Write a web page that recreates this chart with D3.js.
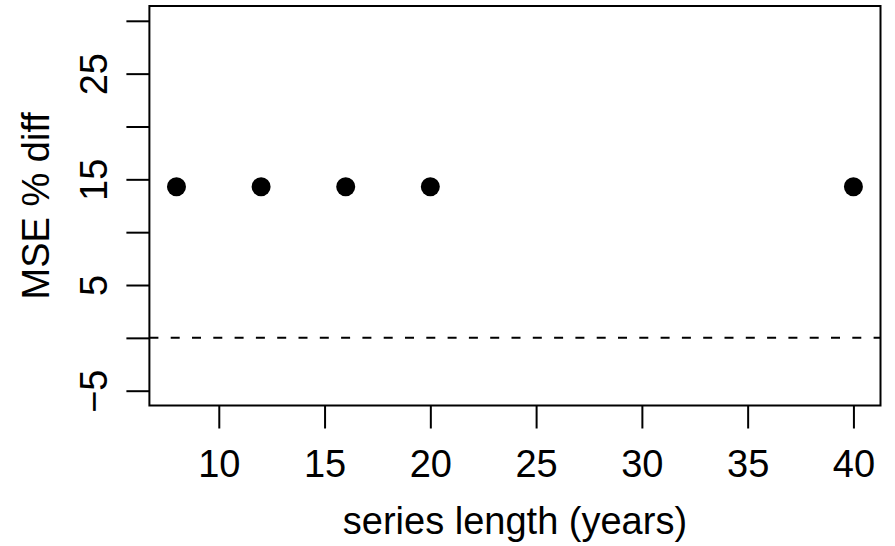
<!DOCTYPE html>
<html>
<head>
<meta charset="utf-8">
<script src="https://cdn.jsdelivr.net/npm/d3@7"></script>
<style>
  html, body { margin: 0; padding: 0; background: #fff; }
  svg { display: block; }
  text { font-family: 'Liberation Sans', Arial, sans-serif; fill: #000; }
</style>
</head>
<body>
<svg id="chart" width="895" height="546"></svg>
<script>
// series lengths (years) and MSE % difference
var lengths = [8, 12, 16, 20, 40];
var mseDiff = [14.3, 14.3, 14.3, 14.3, 14.3];

var xTicks = [10, 15, 20, 25, 30, 35, 40];
var yTicks = [-5, 0, 5, 10, 15, 20, 25, 30];
var yLabelled = [-5, 5, 15, 25];
var refLine = 0;

var xLabel = 'series length (years)',
    yLabel = 'MSE % diff';

var svg = d3.select('#chart'),
    box = {left: 149.4, right: 880.5, top: 6, bottom: 405.5},
    fontSize = 38,
    tickLen = 23;

// R style 4% extension of the ranges
var xr = [d3.min(lengths), d3.max(lengths)], xpad = (xr[1] - xr[0]) * 0.04;
var yr = [-5, 30], ypad = (yr[1] - yr[0]) * 0.04;

var x = d3.scaleLinear()
    .domain([xr[0] - xpad, xr[1] + xpad])
    .range([box.left, box.right]);

var y = d3.scaleLinear()
    .domain([yr[0] - ypad, yr[1] + ypad])
    .range([box.bottom, box.top]);

var fmt = function(d) { return d < 0 ? '\u2212' + Math.abs(d) : '' + d; };

// x axis
var xAxis = svg.append('g')
    .attr('transform', 'translate(0,' + box.bottom + ')')
    .call(d3.axisBottom(x).tickValues(xTicks).tickSize(tickLen).tickPadding(0).tickFormat(fmt));
xAxis.select('.domain').remove();
xAxis.selectAll('.tick line').attr('stroke', '#000').attr('stroke-width', 2);
xAxis.selectAll('.tick text')
    .attr('y', 71.5).attr('dy', null)
    .attr('font-size', fontSize)
    .attr('font-family', "'Liberation Sans', Arial, sans-serif");

// y axis
var yAxis = svg.append('g')
    .attr('transform', 'translate(' + box.left + ',0)')
    .call(d3.axisLeft(y).tickValues(yTicks).tickSize(tickLen).tickFormat(function(d) {
        return yLabelled.indexOf(d) >= 0 ? fmt(d) : '';
    }));
yAxis.select('.domain').remove();
yAxis.selectAll('.tick line').attr('stroke', '#000').attr('stroke-width', 2);
yAxis.selectAll('.tick text')
    .attr('x', null).attr('dy', null)
    .attr('transform', 'translate(-42,0) rotate(-90)')
    .attr('text-anchor', 'middle')
    .attr('font-size', fontSize)
    .attr('font-family', "'Liberation Sans', Arial, sans-serif");

// reference line
svg.append('line')
    .attr('x1', box.left).attr('x2', box.right)
    .attr('y1', y(refLine)).attr('y2', y(refLine))
    .attr('stroke', '#000')
    .attr('stroke-width', 2)
    .attr('stroke-dasharray', '9,12.3');

// points
svg.append('g')
  .selectAll('circle')
  .data(lengths)
  .enter().append('circle')
    .attr('cx', function(d) { return x(d); })
    .attr('cy', function(d, i) { return y(mseDiff[i]); })
    .attr('r', 9.5)
    .attr('fill', '#000');

// plot box
svg.append('rect')
    .attr('x', box.left).attr('y', box.top)
    .attr('width', box.right - box.left)
    .attr('height', box.bottom - box.top)
    .attr('fill', 'none')
    .attr('stroke', '#000')
    .attr('stroke-width', 2);

// axis titles
svg.append('text')
    .attr('x', (box.left + box.right) / 2)
    .attr('y', 534)
    .attr('text-anchor', 'middle')
    .attr('font-size', fontSize)
    .text(xLabel);

svg.append('text')
    .attr('transform', 'translate(48.5,' + (box.top + box.bottom) / 2 + ') rotate(-90)')
    .attr('text-anchor', 'middle')
    .attr('font-size', fontSize)
    .text(yLabel);
</script>
</body>
</html>
